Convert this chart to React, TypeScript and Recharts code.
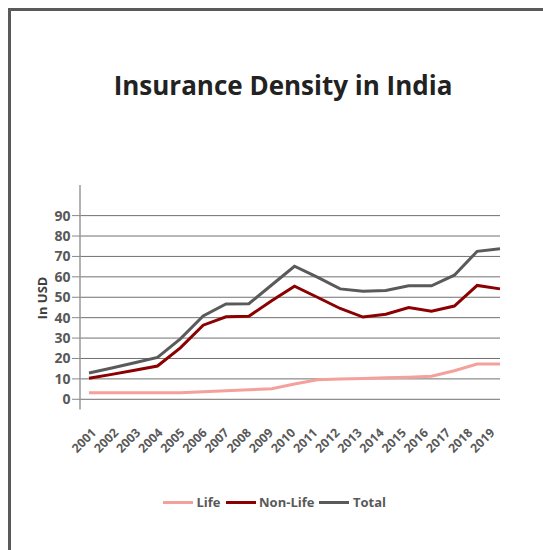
import React from 'react';
import { LineChart, Line, XAxis, YAxis, CartesianGrid } from 'recharts';

const years = ['2001', '2002', '2003', '2004', '2005', '2006', '2007', '2008', '2009', '2010', '2011', '2012', '2013', '2014', '2015', '2016', '2017', '2018', '2019'];
const life = [3.2, 3.2, 3.2, 3.2, 3.2, 3.7, 4.2, 4.7, 5.2, 7.5, 9.6, 10, 10.2, 10.5, 10.8, 11.3, 14, 17.3, 17.3];
const nonLife = [10.3, 12.2, 14.2, 16.3, 25.2, 36.3, 40.4, 40.7, 48.3, 55.4, 50, 44.5, 40.3, 41.7, 45, 43.1, 45.7, 55.8, 54.1];
const total = [12.9, 15.3, 17.9, 20.5, 29.6, 40.8, 46.7, 46.8, 56, 65.2, 59.9, 54.1, 53, 53.3, 55.6, 55.6, 60.8, 72.5, 73.8];
const yTicks = [0, 10, 20, 30, 40, 50, 60, 70, 80, 90];

const series = [
  { key: 'life', name: 'Life', color: '#F4A19C' },
  { key: 'nonLife', name: 'Non-Life', color: '#8B0000' },
  { key: 'total', name: 'Total', color: '#5A5A5A' },
];

const data = years.map((year, i) => ({ year, life: life[i], nonLife: nonLife[i], total: total[i] }));

const font = '"Open Sans", "Noto Sans", sans-serif';
const textGray = '#595959';

function YearTick({ x, y, payload }: any) {
  const i = years.indexOf(payload.value);
  return (
    <text
      transform={`translate(${x + 8 - 0.7 * i},${y + 24}) rotate(-45)`}
      textAnchor="end"
      fontFamily={font}
      fontWeight={700}
      fontSize={12.3}
      fill={textGray}
    >
      {payload.value}
    </text>
  );
}

export default function App() {
  return (
    <div style={{ position: 'fixed', left: 0, top: 0, width: 543, height: 550, overflow: 'hidden', background: '#fff' }}>
      <div style={{ position: 'absolute', left: 8, top: 8, width: 600, height: 600, border: '3px solid #5A5A5A', boxSizing: 'border-box' }} />
      <div
        style={{
          position: 'absolute', left: 0, top: 70.5, width: 566, textAlign: 'center',
          fontFamily: font, fontWeight: 700, fontSize: 26, lineHeight: '28px', color: '#222',
        }}
      >
        Insurance Density in India
      </div>
      <div style={{ position: 'absolute', left: 0, top: 0 }}>
        <LineChart width={543} height={550} data={data} margin={{ top: 185, right: 43, left: 0, bottom: 110.5 }}>
          <CartesianGrid vertical={false} stroke="#707070" horizontalValues={yTicks} />
          <XAxis
            dataKey="year"
            height={30}
            axisLine={false}
            tickLine={false}
            tickSize={0}
            tickMargin={0}
            interval={0}
            padding={{ left: 9, right: 0 }}
            tick={<YearTick />}
          />
          <YAxis
            width={80}
            domain={[-5, 105]}
            ticks={yTicks}
            interval={0}
            axisLine={{ stroke: '#999', strokeWidth: 1.5 }}
            tickLine={{ stroke: '#888' }}
            tickSize={8}
            tickMargin={1.5}
            tick={{ fontFamily: font, fontWeight: 700, fontSize: 14, fill: textGray }}
          />
          {series.map((s) => (
            <Line
              key={s.key}
              type="linear"
              dataKey={s.key}
              name={s.name}
              stroke={s.color}
              strokeWidth={3}
              dot={false}
              isAnimationActive={false}
            />
          ))}
        </LineChart>
      </div>
      <div
        style={{
          position: 'absolute', left: 42, top: 298, transform: 'translate(-50%, -50%) rotate(-90deg)',
          fontFamily: font, fontWeight: 700, fontSize: 13, color: '#404040', whiteSpace: 'nowrap',
        }}
      >
        In USD
      </div>
      <div style={{ position: 'absolute', left: 163, top: 493, display: 'flex', alignItems: 'center', fontFamily: font, fontWeight: 700, fontSize: 13, color: textGray }}>
        {series.map((s) => (
          <div key={s.key} style={{ display: 'flex', alignItems: 'center', marginRight: 5 }}>
            <div style={{ width: 30, height: 3, background: s.color, marginRight: 3.5 }} />
            <span>{s.name}</span>
          </div>
        ))}
      </div>
    </div>
  );
}
